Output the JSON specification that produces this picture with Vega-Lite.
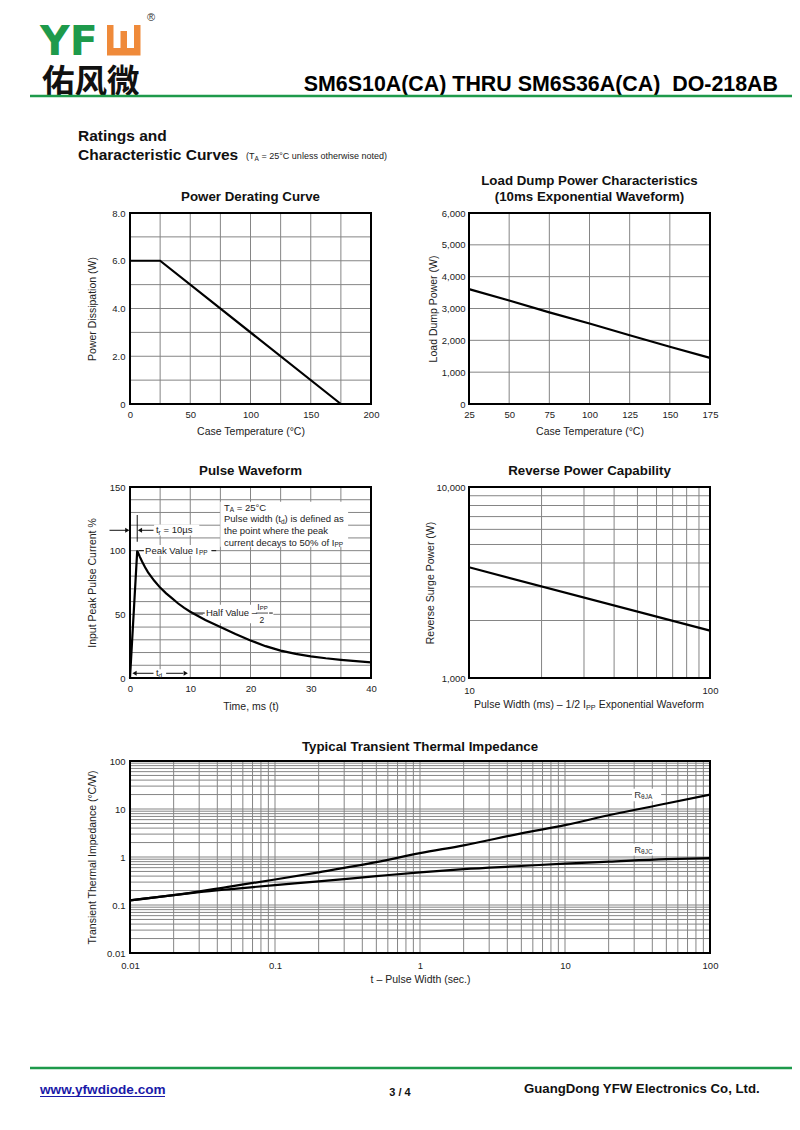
{
  "$schema": "https://vega.github.io/schema/vega-lite/v6.json",
  "width": 800,
  "height": 1130,
  "autosize": "none",
  "padding": 0,
  "background": "white",
  "config": {
    "font": "Liberation Sans",
    "view": {"stroke": null},
    "axis": {"labelFont": "Liberation Sans", "labelFontSize": 9.5, "labelColor": "#222", "titleFont": "Liberation Sans", "titleFontSize": 10.5, "titleFontWeight": "normal", "titleColor": "#222", "ticks": false, "domain": false, "grid": false, "labelFlush": false, "labelOverlap": false, "labelPadding": 5},
    "text": {"font": "Liberation Sans"}
  },
  "datasets": {
    "grid1x": [{"v": 0}, {"v": 25}, {"v": 50}, {"v": 75}, {"v": 100}, {"v": 125}, {"v": 150}, {"v": 175}, {"v": 200}],
    "grid1y": [{"v": 0}, {"v": 1}, {"v": 2}, {"v": 3}, {"v": 4}, {"v": 5}, {"v": 6}, {"v": 7}, {"v": 8}],
    "grid2x": [{"v": 25}, {"v": 50}, {"v": 75}, {"v": 100}, {"v": 125}, {"v": 150}, {"v": 175}],
    "grid2y": [{"v": 0}, {"v": 1000}, {"v": 2000}, {"v": 3000}, {"v": 4000}, {"v": 5000}, {"v": 6000}],
    "grid3x": [{"v": 0}, {"v": 5}, {"v": 10}, {"v": 15}, {"v": 20}, {"v": 25}, {"v": 30}, {"v": 35}, {"v": 40}],
    "grid3y": [{"v": 0}, {"v": 10}, {"v": 20}, {"v": 30}, {"v": 40}, {"v": 50}, {"v": 60}, {"v": 70}, {"v": 80}, {"v": 90}, {"v": 100}, {"v": 110}, {"v": 120}, {"v": 130}, {"v": 140}, {"v": 150}],
    "grid4x": [{"v": 10}, {"v": 20}, {"v": 30}, {"v": 40}, {"v": 50}, {"v": 60}, {"v": 70}, {"v": 80}, {"v": 90}, {"v": 100}],
    "grid4y": [{"v": 1000}, {"v": 2000}, {"v": 3000}, {"v": 4000}, {"v": 5000}, {"v": 6000}, {"v": 7000}, {"v": 8000}, {"v": 9000}, {"v": 10000}],
    "grid5": [{"v": 0.01}, {"v": 0.02}, {"v": 0.03}, {"v": 0.04}, {"v": 0.05}, {"v": 0.06}, {"v": 0.07}, {"v": 0.08}, {"v": 0.09}, {"v": 0.1}, {"v": 0.2}, {"v": 0.3}, {"v": 0.4}, {"v": 0.5}, {"v": 0.6}, {"v": 0.7}, {"v": 0.8}, {"v": 0.9}, {"v": 1}, {"v": 2}, {"v": 3}, {"v": 4}, {"v": 5}, {"v": 6}, {"v": 7}, {"v": 8}, {"v": 9}, {"v": 10}, {"v": 20}, {"v": 30}, {"v": 40}, {"v": 50}, {"v": 60}, {"v": 70}, {"v": 80}, {"v": 90}, {"v": 100}],
    "derating": [{"temp": 0, "watts": 6}, {"temp": 25, "watts": 6}, {"temp": 175, "watts": 0}],
    "loaddump": [{"temp": 25, "watts": 3610}, {"temp": 50, "watts": 3250}, {"temp": 75, "watts": 2880}, {"temp": 100, "watts": 2530}, {"temp": 125, "watts": 2160}, {"temp": 150, "watts": 1800}, {"temp": 175, "watts": 1450}],
    "pulse": [{"ms": 0, "pct": 0}, {"ms": 1.2, "pct": 100}, {"ms": 1.6, "pct": 95.5}, {"ms": 2, "pct": 91.5}, {"ms": 2.5, "pct": 87}, {"ms": 3, "pct": 83}, {"ms": 4, "pct": 76.5}, {"ms": 5, "pct": 71}, {"ms": 6, "pct": 66.5}, {"ms": 7, "pct": 62.5}, {"ms": 8, "pct": 58.5}, {"ms": 9, "pct": 55}, {"ms": 10, "pct": 52}, {"ms": 12.5, "pct": 45.5}, {"ms": 15, "pct": 40}, {"ms": 17.5, "pct": 34.5}, {"ms": 20, "pct": 29.5}, {"ms": 22.5, "pct": 25}, {"ms": 25, "pct": 21.5}, {"ms": 27.5, "pct": 19}, {"ms": 30, "pct": 17}, {"ms": 32.5, "pct": 15.5}, {"ms": 35, "pct": 14.3}, {"ms": 37.5, "pct": 13.2}, {"ms": 40, "pct": 12.3}],
    "reverse": [{"width": 10, "watts": 3800}, {"width": 100, "watts": 1770}],
    "thermal": [
      {"t": 0.01, "z": 0.125, "curve": "RθJA"}, {"t": 0.02, "z": 0.16, "curve": "RθJA"}, {"t": 0.05, "z": 0.245, "curve": "RθJA"}, {"t": 0.1, "z": 0.34, "curve": "RθJA"}, {"t": 0.2, "z": 0.48, "curve": "RθJA"}, {"t": 0.5, "z": 0.78, "curve": "RθJA"}, {"t": 1, "z": 1.2, "curve": "RθJA"}, {"t": 2, "z": 1.75, "curve": "RθJA"}, {"t": 5, "z": 3.1, "curve": "RθJA"}, {"t": 10, "z": 4.6, "curve": "RθJA"}, {"t": 20, "z": 7.4, "curve": "RθJA"}, {"t": 50, "z": 13, "curve": "RθJA"}, {"t": 100, "z": 20, "curve": "RθJA"},
      {"t": 0.01, "z": 0.125, "curve": "RθJC"}, {"t": 0.02, "z": 0.16, "curve": "RθJC"}, {"t": 0.03, "z": 0.185, "curve": "RθJC"}, {"t": 0.05, "z": 0.215, "curve": "RθJC"}, {"t": 0.1, "z": 0.26, "curve": "RθJC"}, {"t": 0.2, "z": 0.31, "curve": "RθJC"}, {"t": 0.5, "z": 0.4, "curve": "RθJC"}, {"t": 1, "z": 0.48, "curve": "RθJC"}, {"t": 2, "z": 0.56, "curve": "RθJC"}, {"t": 5, "z": 0.65, "curve": "RθJC"}, {"t": 10, "z": 0.73, "curve": "RθJC"}, {"t": 20, "z": 0.8, "curve": "RθJC"}, {"t": 50, "z": 0.9, "curve": "RθJC"}, {"t": 100, "z": 0.95, "curve": "RθJC"}
    ]
  },
  "resolve": {"scale": {"x": "independent", "y": "independent"}, "axis": {"x": "independent", "y": "independent"}},
  "layer": [
    {
      "data": {"values": [{}]},
      "layer": [
        {"mark": {"type": "rect", "fill": "#ef8a3a"}, "encoding": {"x": {"datum": 107, "type": "quantitative", "scale": {"domain": [0, 800], "range": [0, 800], "nice": false, "zero": false}, "axis": null}, "x2": {"datum": 140.5}, "y": {"datum": 25, "type": "quantitative", "scale": {"domain": [0, 1130], "range": [0, 1130], "nice": false, "zero": false}, "axis": null}, "y2": {"datum": 55.5}}},
        {"mark": {"type": "rect", "fill": "#ffffff"}, "encoding": {"x": {"datum": 113.5, "type": "quantitative", "axis": null}, "x2": {"datum": 134}, "y": {"datum": 24, "type": "quantitative", "axis": null}, "y2": {"datum": 48}}},
        {"mark": {"type": "rect", "fill": "#ef8a3a"}, "encoding": {"x": {"datum": 120.5, "type": "quantitative", "axis": null}, "x2": {"datum": 127}, "y": {"datum": 31, "type": "quantitative", "axis": null}, "y2": {"datum": 50}}},
        {"mark": {"type": "text", "text": "YF", "font": "DejaVu Sans", "fontWeight": "bold", "fontSize": 41, "fill": "#1e9a4b", "align": "left", "baseline": "alphabetic"}, "encoding": {"x": {"datum": 40, "type": "quantitative", "axis": null}, "y": {"datum": 55, "type": "quantitative", "axis": null}}},
        {"mark": {"type": "text", "text": "®", "fontSize": 11, "fill": "#333", "align": "left", "baseline": "middle"}, "encoding": {"x": {"datum": 147, "type": "quantitative", "axis": null}, "y": {"datum": 18, "type": "quantitative", "axis": null}}},
        {"mark": {"type": "text", "text": "佑风微", "font": "Noto Sans CJK SC", "fontWeight": "bold", "fontSize": 32.5, "fill": "#111", "align": "left", "baseline": "alphabetic"}, "encoding": {"x": {"datum": 42, "type": "quantitative", "axis": null}, "y": {"datum": 92.5, "type": "quantitative", "axis": null}}},
        {"mark": {"type": "text", "text": "SM6S10A(CA) THRU SM6S36A(CA)\u00a0 DO-218AB", "fontWeight": "bold", "fontSize": 21.4, "fill": "#000", "align": "right", "baseline": "alphabetic"}, "encoding": {"x": {"datum": 778, "type": "quantitative", "axis": null}, "y": {"datum": 91, "type": "quantitative", "axis": null}}},
        {"mark": {"type": "rule", "color": "#1e9a4b", "strokeWidth": 2.5}, "encoding": {"x": {"datum": 30, "type": "quantitative", "axis": null}, "x2": {"datum": 792}, "y": {"datum": 96, "type": "quantitative", "axis": null}}},
        {"mark": {"type": "text", "text": "Ratings and", "fontWeight": "bold", "fontSize": 15.5, "fill": "#111", "align": "left", "baseline": "alphabetic"}, "encoding": {"x": {"datum": 78, "type": "quantitative", "axis": null}, "y": {"datum": 141, "type": "quantitative", "axis": null}}},
        {"mark": {"type": "text", "text": "Characteristic Curves", "fontWeight": "bold", "fontSize": 15.5, "fill": "#111", "align": "left", "baseline": "alphabetic"}, "encoding": {"x": {"datum": 78, "type": "quantitative", "axis": null}, "y": {"datum": 160, "type": "quantitative", "axis": null}}},
        {"mark": {"type": "text", "text": "(T", "fontSize": 9, "fill": "#222", "align": "left", "baseline": "alphabetic"}, "encoding": {"x": {"datum": 246, "type": "quantitative", "axis": null}, "y": {"datum": 159, "type": "quantitative", "axis": null}}},
        {"mark": {"type": "text", "text": "A", "fontSize": 6.5, "fill": "#222", "align": "left", "baseline": "alphabetic"}, "encoding": {"x": {"datum": 254.5, "type": "quantitative", "axis": null}, "y": {"datum": 160.5, "type": "quantitative", "axis": null}}},
        {"mark": {"type": "text", "text": "= 25°C unless otherwise noted)", "fontSize": 9, "fill": "#222", "align": "left", "baseline": "alphabetic"}, "encoding": {"x": {"datum": 261.5, "type": "quantitative", "axis": null}, "y": {"datum": 159, "type": "quantitative", "axis": null}}},
        {"mark": {"type": "rule", "color": "#1e9a4b", "strokeWidth": 2.5}, "encoding": {"x": {"datum": 30, "type": "quantitative", "axis": null}, "x2": {"datum": 792}, "y": {"datum": 1068, "type": "quantitative", "axis": null}}},
        {"mark": {"type": "text", "text": "www.yfwdiode.com", "fontWeight": "bold", "fontSize": 13.6, "fill": "#1a1aa8", "align": "left", "baseline": "alphabetic"}, "encoding": {"x": {"datum": 40, "type": "quantitative", "axis": null}, "y": {"datum": 1094, "type": "quantitative", "axis": null}}},
        {"mark": {"type": "rule", "color": "#1a1aa8", "strokeWidth": 1}, "encoding": {"x": {"datum": 40, "type": "quantitative", "axis": null}, "x2": {"datum": 165}, "y": {"datum": 1096.5, "type": "quantitative", "axis": null}}},
        {"mark": {"type": "text", "text": "3 / 4", "fontWeight": "bold", "fontSize": 11, "fill": "#111", "align": "center", "baseline": "alphabetic"}, "encoding": {"x": {"datum": 400, "type": "quantitative", "axis": null}, "y": {"datum": 1096, "type": "quantitative", "axis": null}}},
        {"mark": {"type": "text", "text": "GuangDong YFW Electronics Co, Ltd.", "fontWeight": "bold", "fontSize": 13.2, "fill": "#111", "align": "left", "baseline": "alphabetic"}, "encoding": {"x": {"datum": 524, "type": "quantitative", "axis": null}, "y": {"datum": 1093, "type": "quantitative", "axis": null}}}
      ]
    },
    {
      "data": {"values": [{}]},
      "layer": [
        {"data": {"name": "grid1x"}, "mark": {"type": "rule", "color": "#858585", "strokeWidth": 1}, "encoding": {"x": {"field": "v", "type": "quantitative"}, "y": {"datum": 0, "type": "quantitative"}, "y2": {"datum": 8}}},
        {"data": {"name": "grid1y"}, "mark": {"type": "rule", "color": "#858585", "strokeWidth": 1}, "encoding": {"y": {"field": "v", "type": "quantitative"}, "x": {"datum": 0, "type": "quantitative"}, "x2": {"datum": 200}}},
        {"mark": {"type": "rect", "fill": "transparent", "stroke": "#000", "strokeWidth": 2}, "encoding": {"x": {"datum": 0, "type": "quantitative"}, "x2": {"datum": 200}, "y": {"datum": 0, "type": "quantitative"}, "y2": {"datum": 8}}},
        {"data": {"name": "derating"}, "mark": {"type": "line", "color": "#000", "strokeWidth": 2.2},
         "encoding": {
           "x": {"field": "temp", "type": "quantitative", "scale": {"domain": [0, 200], "range": [130, 371], "nice": false, "zero": false}, "axis": {"orient": "bottom", "offset": -726, "values": [0, 50, 100, 150, 200], "labelExpr": "format(datum.value, 'd')", "title": "Case Temperature (°C)", "labelPadding": 5, "titlePadding": 8}},
           "y": {"field": "watts", "type": "quantitative", "scale": {"domain": [0, 8], "range": [404, 213], "nice": false, "zero": false}, "axis": {"orient": "left", "offset": -130, "values": [0, 2, 4, 6, 8], "labelExpr": "datum.value == 0 ? '0' : format(datum.value, '.1f')", "title": "Power Dissipation (W)", "labelPadding": 5, "titlePadding": 14}}
         }},
        {"mark": {"type": "text", "text": "Power Derating Curve", "fontWeight": "bold", "fontSize": 13.3, "fill": "#111", "align": "center", "baseline": "middle", "dy": -16}, "encoding": {"x": {"datum": 100, "type": "quantitative"}, "y": {"datum": 8, "type": "quantitative"}}}
      ]
    },
    {
      "data": {"values": [{}]},
      "layer": [
        {"data": {"name": "grid2x"}, "mark": {"type": "rule", "color": "#858585", "strokeWidth": 1}, "encoding": {"x": {"field": "v", "type": "quantitative"}, "y": {"datum": 0, "type": "quantitative"}, "y2": {"datum": 6000}}},
        {"data": {"name": "grid2y"}, "mark": {"type": "rule", "color": "#858585", "strokeWidth": 1}, "encoding": {"y": {"field": "v", "type": "quantitative"}, "x": {"datum": 25, "type": "quantitative"}, "x2": {"datum": 175}}},
        {"mark": {"type": "rect", "fill": "transparent", "stroke": "#000", "strokeWidth": 2}, "encoding": {"x": {"datum": 25, "type": "quantitative"}, "x2": {"datum": 175}, "y": {"datum": 0, "type": "quantitative"}, "y2": {"datum": 6000}}},
        {"data": {"name": "loaddump"}, "mark": {"type": "line", "color": "#000", "strokeWidth": 2.2},
         "encoding": {
           "x": {"field": "temp", "type": "quantitative", "scale": {"domain": [25, 175], "range": [469, 710], "nice": false, "zero": false}, "axis": {"orient": "bottom", "offset": -726, "values": [25, 50, 75, 100, 125, 150, 175], "labelExpr": "format(datum.value, 'd')", "title": "Case Temperature (°C)", "labelPadding": 5, "titlePadding": 8}},
           "y": {"field": "watts", "type": "quantitative", "scale": {"domain": [0, 6000], "range": [404, 213], "nice": false, "zero": false}, "axis": {"orient": "left", "offset": -469, "values": [0, 1000, 2000, 3000, 4000, 5000, 6000], "labelExpr": "format(datum.value, ',')", "title": "Load Dump Power (W)", "labelPadding": 4, "titlePadding": 3}}
         }},
        {"mark": {"type": "text", "text": "Load Dump Power Characteristics", "fontWeight": "bold", "fontSize": 13.3, "fill": "#111", "align": "center", "baseline": "middle", "dy": -32}, "encoding": {"x": {"datum": 100, "type": "quantitative"}, "y": {"datum": 6000, "type": "quantitative"}}},
        {"mark": {"type": "text", "text": "(10ms Exponential Waveform)", "fontWeight": "bold", "fontSize": 13.3, "fill": "#111", "align": "center", "baseline": "middle", "dy": -16}, "encoding": {"x": {"datum": 100, "type": "quantitative"}, "y": {"datum": 6000, "type": "quantitative"}}}
      ]
    },
    {
      "data": {"values": [{}]},
      "layer": [
        {"data": {"name": "grid3x"}, "mark": {"type": "rule", "color": "#858585", "strokeWidth": 1}, "encoding": {"x": {"field": "v", "type": "quantitative"}, "y": {"datum": 0, "type": "quantitative"}, "y2": {"datum": 150}}},
        {"data": {"name": "grid3y"}, "mark": {"type": "rule", "color": "#858585", "strokeWidth": 1}, "encoding": {"y": {"field": "v", "type": "quantitative"}, "x": {"datum": 0, "type": "quantitative"}, "x2": {"datum": 40}}},
        {"mark": {"type": "rect", "fill": "#ffffff"}, "encoding": {"x": {"datum": 15, "type": "quantitative"}, "x2": {"datum": 36.2}, "y": {"datum": 103, "type": "quantitative"}, "y2": {"datum": 138.5}}},
        {"mark": {"type": "rect", "fill": "#ffffff"}, "encoding": {"x": {"datum": 4.0, "type": "quantitative"}, "x2": {"datum": 11.5}, "y": {"datum": 112, "type": "quantitative"}, "y2": {"datum": 120.5}}},
        {"mark": {"type": "rect", "fill": "#ffffff"}, "encoding": {"x": {"datum": 2.3, "type": "quantitative"}, "x2": {"datum": 13.6}, "y": {"datum": 96, "type": "quantitative"}, "y2": {"datum": 104.5}}},
        {"mark": {"type": "rect", "fill": "#ffffff"}, "encoding": {"x": {"datum": 12.1, "type": "quantitative"}, "x2": {"datum": 23.8}, "y": {"datum": 43, "type": "quantitative"}, "y2": {"datum": 57.5}}},
        {"mark": {"type": "rect", "fill": "#ffffff"}, "encoding": {"x": {"datum": 1.0, "type": "quantitative"}, "x2": {"datum": 8.8}, "y": {"datum": 1, "type": "quantitative"}, "y2": {"datum": 6.8}}},
        {"mark": {"type": "rect", "fill": "transparent", "stroke": "#000", "strokeWidth": 2}, "encoding": {"x": {"datum": 0, "type": "quantitative"}, "x2": {"datum": 40}, "y": {"datum": 0, "type": "quantitative"}, "y2": {"datum": 150}}},
        {"data": {"name": "pulse"}, "mark": {"type": "line", "color": "#000", "strokeWidth": 2.2},
         "encoding": {
           "x": {"field": "ms", "type": "quantitative", "scale": {"domain": [0, 40], "range": [130, 371], "nice": false, "zero": false}, "axis": {"orient": "bottom", "offset": -452, "values": [0, 10, 20, 30, 40], "labelExpr": "format(datum.value, 'd')", "title": "Time, ms (t)", "labelPadding": 5, "titlePadding": 9}},
           "y": {"field": "pct", "type": "quantitative", "scale": {"domain": [0, 150], "range": [678, 487], "nice": false, "zero": false}, "axis": {"orient": "left", "offset": -130, "values": [0, 50, 100, 150], "labelExpr": "format(datum.value, 'd')", "title": "Input Peak Pulse Current %", "labelPadding": 5, "titlePadding": 12}}
         }},
        {"mark": {"type": "text", "text": "Pulse Waveform", "fontWeight": "bold", "fontSize": 13.3, "fill": "#111", "align": "center", "baseline": "middle", "dy": -16}, "encoding": {"x": {"datum": 20, "type": "quantitative"}, "y": {"datum": 150, "type": "quantitative"}}},
        {"mark": {"type": "text", "text": "T", "fontSize": 9.5, "fill": "#222", "align": "left", "baseline": "middle"}, "encoding": {"x": {"datum": 15.6, "type": "quantitative"}, "y": {"datum": 133.7, "type": "quantitative"}}},
        {"mark": {"type": "text", "text": "A", "fontSize": 6.5, "fill": "#222", "align": "left", "baseline": "middle", "dx": 5.8, "dy": 2.5}, "encoding": {"x": {"datum": 15.6, "type": "quantitative"}, "y": {"datum": 133.7, "type": "quantitative"}}},
        {"mark": {"type": "text", "text": "= 25°C", "fontSize": 9.5, "fill": "#222", "align": "left", "baseline": "middle", "dx": 12.8}, "encoding": {"x": {"datum": 15.6, "type": "quantitative"}, "y": {"datum": 133.7, "type": "quantitative"}}},
        {"mark": {"type": "text", "text": "Pulse width (t", "fontSize": 9.5, "fill": "#222", "align": "left", "baseline": "middle"}, "encoding": {"x": {"datum": 15.6, "type": "quantitative"}, "y": {"datum": 124.6, "type": "quantitative"}}},
        {"mark": {"type": "text", "text": "d", "fontSize": 6.5, "fill": "#222", "align": "left", "baseline": "middle", "dx": 57.0, "dy": 2.5}, "encoding": {"x": {"datum": 15.6, "type": "quantitative"}, "y": {"datum": 124.6, "type": "quantitative"}}},
        {"mark": {"type": "text", "text": ") is defined as", "fontSize": 9.5, "fill": "#222", "align": "left", "baseline": "middle", "dx": 60.6}, "encoding": {"x": {"datum": 15.6, "type": "quantitative"}, "y": {"datum": 124.6, "type": "quantitative"}}},
        {"mark": {"type": "text", "text": "the point where the peak", "fontSize": 9.5, "fill": "#222", "align": "left", "baseline": "middle"}, "encoding": {"x": {"datum": 15.6, "type": "quantitative"}, "y": {"datum": 115.4, "type": "quantitative"}}},
        {"mark": {"type": "text", "text": "current decays to 50% of I", "fontSize": 9.5, "fill": "#222", "align": "left", "baseline": "middle"}, "encoding": {"x": {"datum": 15.6, "type": "quantitative"}, "y": {"datum": 106.4, "type": "quantitative"}}},
        {"mark": {"type": "text", "text": "PP", "fontSize": 6.5, "fill": "#222", "align": "left", "baseline": "middle", "dx": 110.4, "dy": 2.5}, "encoding": {"x": {"datum": 15.6, "type": "quantitative"}, "y": {"datum": 106.4, "type": "quantitative"}}},
        {"mark": {"type": "rule", "color": "#111", "strokeWidth": 1}, "encoding": {"x": {"datum": -3.4, "type": "quantitative"}, "x2": {"datum": -0.6}, "y": {"datum": 116, "type": "quantitative"}}},
        {"mark": {"type": "point", "shape": "triangle-right", "size": 24, "filled": true, "color": "#111", "opacity": 1}, "encoding": {"x": {"datum": -0.45, "type": "quantitative"}, "y": {"datum": 116, "type": "quantitative"}}},
        {"mark": {"type": "rule", "color": "#111", "strokeWidth": 1}, "encoding": {"x": {"datum": 1.2, "type": "quantitative"}, "y": {"datum": 107, "type": "quantitative"}, "y2": {"datum": 128}}},
        {"mark": {"type": "point", "shape": "triangle-left", "size": 24, "filled": true, "color": "#111", "opacity": 1}, "encoding": {"x": {"datum": 1.65, "type": "quantitative"}, "y": {"datum": 116, "type": "quantitative"}}},
        {"mark": {"type": "rule", "color": "#111", "strokeWidth": 1}, "encoding": {"x": {"datum": 1.65, "type": "quantitative"}, "x2": {"datum": 3.9}, "y": {"datum": 116, "type": "quantitative"}}},
        {"mark": {"type": "text", "text": "t", "fontSize": 9.5, "fill": "#222", "align": "left", "baseline": "middle"}, "encoding": {"x": {"datum": 4.3, "type": "quantitative"}, "y": {"datum": 116, "type": "quantitative"}}},
        {"mark": {"type": "text", "text": "r", "fontSize": 6.5, "fill": "#222", "align": "left", "baseline": "middle", "dx": 2.7, "dy": 2.5}, "encoding": {"x": {"datum": 4.3, "type": "quantitative"}, "y": {"datum": 116, "type": "quantitative"}}},
        {"mark": {"type": "text", "text": "= 10µs", "fontSize": 9.5, "fill": "#222", "align": "left", "baseline": "middle", "dx": 7.6}, "encoding": {"x": {"datum": 4.3, "type": "quantitative"}, "y": {"datum": 116, "type": "quantitative"}}},
        {"mark": {"type": "rule", "color": "#111", "strokeWidth": 1}, "encoding": {"x": {"datum": 1.5, "type": "quantitative"}, "x2": {"datum": 2.3}, "y": {"datum": 100, "type": "quantitative"}}},
        {"mark": {"type": "text", "text": "Peak Value I", "fontSize": 9.5, "fill": "#222", "align": "left", "baseline": "middle"}, "encoding": {"x": {"datum": 2.5, "type": "quantitative"}, "y": {"datum": 100, "type": "quantitative"}}},
        {"mark": {"type": "text", "text": "PP", "fontSize": 6.5, "fill": "#222", "align": "left", "baseline": "middle", "dx": 53.9, "dy": 2.5}, "encoding": {"x": {"datum": 2.5, "type": "quantitative"}, "y": {"datum": 100, "type": "quantitative"}}},
        {"mark": {"type": "rule", "color": "#111", "strokeWidth": 1}, "encoding": {"x": {"datum": 13.5, "type": "quantitative"}, "x2": {"datum": 14.3}, "y": {"datum": 100, "type": "quantitative"}}},
        {"mark": {"type": "rule", "color": "#111", "strokeWidth": 1}, "encoding": {"x": {"datum": 10.3, "type": "quantitative"}, "x2": {"datum": 12.4}, "y": {"datum": 51, "type": "quantitative"}}},
        {"mark": {"type": "text", "text": "Half Value –", "fontSize": 9.5, "fill": "#222", "align": "left", "baseline": "middle"}, "encoding": {"x": {"datum": 12.6, "type": "quantitative"}, "y": {"datum": 51, "type": "quantitative"}}},
        {"mark": {"type": "text", "text": "I", "fontSize": 8.5, "fill": "#222", "align": "left", "baseline": "middle"}, "encoding": {"x": {"datum": 21.1, "type": "quantitative"}, "y": {"datum": 55.8, "type": "quantitative"}}},
        {"mark": {"type": "text", "text": "PP", "fontSize": 6, "fill": "#222", "align": "left", "baseline": "middle", "dx": 2.5, "dy": 1.5}, "encoding": {"x": {"datum": 21.1, "type": "quantitative"}, "y": {"datum": 55.8, "type": "quantitative"}}},
        {"mark": {"type": "rule", "color": "#222", "strokeWidth": 0.8}, "encoding": {"x": {"datum": 20.9, "type": "quantitative"}, "x2": {"datum": 22.9}, "y": {"datum": 51, "type": "quantitative"}}},
        {"mark": {"type": "text", "text": "2", "fontSize": 8.5, "fill": "#222", "align": "center", "baseline": "middle"}, "encoding": {"x": {"datum": 21.9, "type": "quantitative"}, "y": {"datum": 45.5, "type": "quantitative"}}},
        {"mark": {"type": "rule", "color": "#111", "strokeWidth": 1}, "encoding": {"x": {"datum": 23.1, "type": "quantitative"}, "x2": {"datum": 23.7}, "y": {"datum": 51, "type": "quantitative"}}},
        {"mark": {"type": "point", "shape": "triangle-left", "size": 24, "filled": true, "color": "#111", "opacity": 1}, "encoding": {"x": {"datum": 0.75, "type": "quantitative"}, "y": {"datum": 3.7, "type": "quantitative"}}},
        {"mark": {"type": "rule", "color": "#111", "strokeWidth": 1}, "encoding": {"x": {"datum": 0.75, "type": "quantitative"}, "x2": {"datum": 3.9}, "y": {"datum": 3.7, "type": "quantitative"}}},
        {"mark": {"type": "text", "text": "t", "fontSize": 9.5, "fill": "#222", "align": "left", "baseline": "middle"}, "encoding": {"x": {"datum": 4.3, "type": "quantitative"}, "y": {"datum": 3.7, "type": "quantitative"}}},
        {"mark": {"type": "text", "text": "d", "fontSize": 6.5, "fill": "#222", "align": "left", "baseline": "middle", "dx": 2.7, "dy": 2.5}, "encoding": {"x": {"datum": 4.3, "type": "quantitative"}, "y": {"datum": 3.7, "type": "quantitative"}}},
        {"mark": {"type": "rule", "color": "#111", "strokeWidth": 1}, "encoding": {"x": {"datum": 6.0, "type": "quantitative"}, "x2": {"datum": 8.85}, "y": {"datum": 3.7, "type": "quantitative"}}},
        {"mark": {"type": "point", "shape": "triangle-right", "size": 24, "filled": true, "color": "#111", "opacity": 1}, "encoding": {"x": {"datum": 9.25, "type": "quantitative"}, "y": {"datum": 3.7, "type": "quantitative"}}}
      ]
    },
    {
      "data": {"values": [{}]},
      "layer": [
        {"data": {"name": "grid4x"}, "mark": {"type": "rule", "color": "#858585", "strokeWidth": 1}, "encoding": {"x": {"field": "v", "type": "quantitative", "scale": {"type": "log"}}, "y": {"datum": 1000, "type": "quantitative", "scale": {"type": "log"}}, "y2": {"datum": 10000}}},
        {"data": {"name": "grid4y"}, "mark": {"type": "rule", "color": "#858585", "strokeWidth": 1}, "encoding": {"y": {"field": "v", "type": "quantitative", "scale": {"type": "log"}}, "x": {"datum": 10, "type": "quantitative", "scale": {"type": "log"}}, "x2": {"datum": 100}}},
        {"mark": {"type": "rect", "fill": "transparent", "stroke": "#000", "strokeWidth": 2}, "encoding": {"x": {"datum": 10, "type": "quantitative", "scale": {"type": "log"}}, "x2": {"datum": 100}, "y": {"datum": 1000, "type": "quantitative", "scale": {"type": "log"}}, "y2": {"datum": 10000}}},
        {"data": {"name": "reverse"}, "mark": {"type": "line", "color": "#000", "strokeWidth": 2.2},
         "encoding": {
           "x": {"field": "width", "type": "quantitative", "scale": {"type": "log", "domain": [10, 100], "range": [469, 710], "nice": false, "zero": false}, "axis": {"orient": "bottom", "offset": -452, "values": [10, 100], "labelExpr": "format(datum.value, ',')", "title": null, "labelPadding": 7}},
           "y": {"field": "watts", "type": "quantitative", "scale": {"type": "log", "domain": [1000, 10000], "range": [678, 487], "nice": false, "zero": false}, "axis": {"orient": "left", "offset": -469, "values": [1000, 10000], "labelExpr": "format(datum.value, ',')", "title": "Reverse Surge Power (W)", "labelPadding": 4, "titlePadding": 0}}
         }},
        {"mark": {"type": "text", "text": "Reverse Power Capability", "fontWeight": "bold", "fontSize": 13.3, "fill": "#111", "align": "center", "baseline": "middle", "dy": -16}, "encoding": {"x": {"datum": 31.62, "type": "quantitative", "scale": {"type": "log"}}, "y": {"datum": 10000, "type": "quantitative", "scale": {"type": "log"}}}},
        {"mark": {"type": "text", "text": "Pulse Width (ms) – 1/2 I", "fontSize": 10.5, "fill": "#222", "align": "left", "baseline": "middle", "dy": 27}, "encoding": {"x": {"datum": 10.49, "type": "quantitative", "scale": {"type": "log"}}, "y": {"datum": 1000, "type": "quantitative", "scale": {"type": "log"}}}},
        {"mark": {"type": "text", "text": "PP", "fontSize": 7.2, "fill": "#222", "align": "left", "baseline": "middle", "dx": 112, "dy": 29.5}, "encoding": {"x": {"datum": 10.49, "type": "quantitative", "scale": {"type": "log"}}, "y": {"datum": 1000, "type": "quantitative", "scale": {"type": "log"}}}},
        {"mark": {"type": "text", "text": "Exponential Waveform", "fontSize": 10.5, "fill": "#222", "align": "left", "baseline": "middle", "dx": 124.8, "dy": 27}, "encoding": {"x": {"datum": 10.49, "type": "quantitative", "scale": {"type": "log"}}, "y": {"datum": 1000, "type": "quantitative", "scale": {"type": "log"}}}}
      ]
    },
    {
      "data": {"values": [{}]},
      "layer": [
        {"data": {"name": "grid5"}, "mark": {"type": "rule", "color": "#858585", "strokeWidth": 1}, "encoding": {"x": {"field": "v", "type": "quantitative", "scale": {"type": "log"}}, "y": {"datum": 0.01, "type": "quantitative", "scale": {"type": "log"}}, "y2": {"datum": 100}}},
        {"data": {"name": "grid5"}, "mark": {"type": "rule", "color": "#858585", "strokeWidth": 1}, "encoding": {"y": {"field": "v", "type": "quantitative", "scale": {"type": "log"}}, "x": {"datum": 0.01, "type": "quantitative", "scale": {"type": "log"}}, "x2": {"datum": 100}}},
        {"mark": {"type": "rect", "fill": "#ffffff"}, "encoding": {"x": {"datum": 29, "type": "quantitative", "scale": {"type": "log"}}, "x2": {"datum": 46}, "y": {"datum": 14.5, "type": "quantitative", "scale": {"type": "log"}}, "y2": {"datum": 26.5}}},
        {"mark": {"type": "rect", "fill": "#ffffff"}, "encoding": {"x": {"datum": 29, "type": "quantitative", "scale": {"type": "log"}}, "x2": {"datum": 46}, "y": {"datum": 1.07, "type": "quantitative", "scale": {"type": "log"}}, "y2": {"datum": 1.9}}},
        {"mark": {"type": "rect", "fill": "transparent", "stroke": "#000", "strokeWidth": 2}, "encoding": {"x": {"datum": 0.01, "type": "quantitative", "scale": {"type": "log"}}, "x2": {"datum": 100}, "y": {"datum": 0.01, "type": "quantitative", "scale": {"type": "log"}}, "y2": {"datum": 100}}},
        {"data": {"name": "thermal"}, "mark": {"type": "line", "color": "#000", "strokeWidth": 2.2, "interpolate": "monotone"},
         "encoding": {
           "x": {"field": "t", "type": "quantitative", "scale": {"type": "log", "domain": [0.01, 100], "range": [130, 710], "nice": false, "zero": false}, "axis": {"orient": "bottom", "offset": -177, "values": [0.01, 0.1, 1, 10, 100], "labelExpr": "'' + datum.value", "title": "t – Pulse Width (sec.)", "labelPadding": 7, "titlePadding": 5}},
           "y": {"field": "z", "type": "quantitative", "scale": {"type": "log", "domain": [0.01, 100], "range": [953, 761], "nice": false, "zero": false}, "axis": {"orient": "left", "offset": -130, "values": [0.01, 0.1, 1, 10, 100], "labelExpr": "'' + datum.value", "title": "Transient Thermal Impedance (°C/W)", "labelPadding": 5, "titlePadding": 9}},
           "detail": {"field": "curve", "type": "nominal"}
         }},
        {"mark": {"type": "text", "text": "Typical Transient Thermal Impedance", "fontWeight": "bold", "fontSize": 13.3, "fill": "#111", "align": "center", "baseline": "middle", "dy": -14}, "encoding": {"x": {"datum": 1, "type": "quantitative", "scale": {"type": "log"}}, "y": {"datum": 100, "type": "quantitative", "scale": {"type": "log"}}}},
        {"mark": {"type": "text", "text": "R", "fontSize": 9.5, "fill": "#333", "align": "left", "baseline": "middle"}, "encoding": {"x": {"datum": 30, "type": "quantitative", "scale": {"type": "log"}}, "y": {"datum": 19.7, "type": "quantitative", "scale": {"type": "log"}}}},
        {"mark": {"type": "text", "text": "θJA", "fontSize": 6.5, "fill": "#333", "align": "left", "baseline": "middle", "dx": 6.9, "dy": 2.5}, "encoding": {"x": {"datum": 30, "type": "quantitative", "scale": {"type": "log"}}, "y": {"datum": 19.7, "type": "quantitative", "scale": {"type": "log"}}}},
        {"mark": {"type": "text", "text": "R", "fontSize": 9.5, "fill": "#333", "align": "left", "baseline": "middle"}, "encoding": {"x": {"datum": 30, "type": "quantitative", "scale": {"type": "log"}}, "y": {"datum": 1.43, "type": "quantitative", "scale": {"type": "log"}}}},
        {"mark": {"type": "text", "text": "θJC", "fontSize": 6.5, "fill": "#333", "align": "left", "baseline": "middle", "dx": 6.9, "dy": 2.5}, "encoding": {"x": {"datum": 30, "type": "quantitative", "scale": {"type": "log"}}, "y": {"datum": 1.43, "type": "quantitative", "scale": {"type": "log"}}}}
      ]
    }
  ]
}
